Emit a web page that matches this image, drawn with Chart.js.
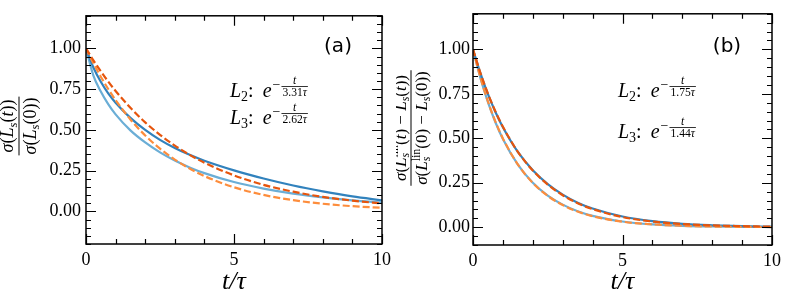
<!DOCTYPE html>
<html>
<head>
<meta charset="utf-8">
<script src="https://cdn.jsdelivr.net/npm/chart.js@4.4.1/dist/chart.umd.min.js"></script>
<style>
  html, body { margin: 0; padding: 0; background: #fff; }
  #wrap { position: relative; width: 792px; height: 303px; }
  canvas { position: absolute; top: 0; }
</style>
</head>
<body>
<div id="wrap">
  <canvas id="chartA" width="396" height="303" style="left:0"></canvas>
  <canvas id="chartB" width="396" height="303" style="left:396px"></canvas>
</div>
<script>
// time axis t/tau
const tVals = [0, 0.25, 0.5, 0.75, 1, 1.5, 2, 2.5, 3, 3.5, 4, 5, 6, 7, 8, 9, 10];

// panel (a): sigma(L_s(t)) / sigma(L_s(0))
const aL2Data = [1.0, 0.883, 0.795, 0.724, 0.667, 0.574, 0.5, 0.439, 0.389, 0.347, 0.311, 0.252, 0.202, 0.159, 0.123, 0.092, 0.068];
const aL3Data = [1.0, 0.833, 0.735, 0.658, 0.595, 0.497, 0.423, 0.362, 0.312, 0.27, 0.235, 0.18, 0.14, 0.109, 0.086, 0.068, 0.054];
const aL2Fit = [1.0, 0.927, 0.86, 0.797, 0.739, 0.636, 0.546, 0.47, 0.404, 0.347, 0.299, 0.221, 0.163, 0.121, 0.089, 0.066, 0.049];
const aL3Fit = [1.0, 0.909, 0.826, 0.751, 0.683, 0.564, 0.466, 0.385, 0.318, 0.263, 0.217, 0.148, 0.101, 0.069, 0.047, 0.032, 0.022];

// panel (b): sigma(L_lin - L_s) normalised
const bL2Data = [1.0, 0.865, 0.748, 0.648, 0.562, 0.423, 0.32, 0.242, 0.183, 0.138, 0.105, 0.06, 0.034, 0.019, 0.011, 0.006, 0.003];
const bL3Data = [1.0, 0.838, 0.703, 0.59, 0.496, 0.352, 0.25, 0.178, 0.127, 0.09, 0.064, 0.032, 0.016, 0.008, 0.004, 0.002, 0.001];
const bL2Fit = [1.0, 0.867, 0.751, 0.651, 0.565, 0.424, 0.319, 0.24, 0.18, 0.135, 0.102, 0.057, 0.032, 0.018, 0.01, 0.006, 0.003];
const bL3Fit = [1.0, 0.841, 0.707, 0.594, 0.499, 0.353, 0.249, 0.176, 0.125, 0.088, 0.062, 0.031, 0.016, 0.008, 0.004, 0.002, 0.001];

// fitted decay times shown in the annotations
const tauA = ['3.31', '2.62'];
const tauB = ['1.75', '1.44'];

const xTickVals = [0, 5, 10];
const xTickLabels = ['0', '5', '10'];
const yTickVals = [0, 0.25, 0.5, 0.75, 1];
const yTickLabels = ['0.00', '0.25', '0.50', '0.75', '1.00'];

const darkBlue = '#3182bd';
const lightBlue = '#6baed6';
const darkOrange = '#e6550d';
const lightOrange = '#fd8d3c';

const SERIF = '"Liberation Serif", "DejaVu Serif", serif';
const MAJOR = 10, MINOR = 5;

function setFont(ctx, size, italic) {
  ctx.font = (italic ? 'italic ' : '') + size.toFixed(1) + 'px ' + SERIF;
}

// tiny math-ish text layout: plain runs, stacked sup/sub, fractions
function drawRuns(ctx, runs, fs, x, y, draw) {
  let cx = x;
  runs.forEach(r => {
    const size = fs * (r.k || 1);
    const by = y + (r.dy || 0) * fs;
    if (r.num) {
      const nd = r.nd || [-0.3, 0.9];
      const wn = drawRuns(ctx, r.num, size, 0, 0, false);
      const wd = drawRuns(ctx, r.den, size, 0, 0, false);
      const w = Math.max(wn, wd) + 2;
      if (draw) {
        drawRuns(ctx, r.num, size, cx + (w - wn) / 2, by + nd[0] * size, true);
        drawRuns(ctx, r.den, size, cx + (w - wd) / 2, by + nd[1] * size, true);
        ctx.fillRect(cx, by - 0.5, w, size > 14 ? 1 : 0.8);
      }
      cx += w + (r.pad || 0);
    } else if (r.sup) {
      setFont(ctx, size, false);
      const w1 = ctx.measureText(r.sup).width;
      if (draw) ctx.fillText(r.sup, cx, y - 0.42 * fs);
      setFont(ctx, size, true);
      const w2 = ctx.measureText(r.sub).width;
      if (draw) ctx.fillText(r.sub, cx, y + 0.22 * fs);
      cx += Math.max(w1, w2);
    } else {
      setFont(ctx, size, r.it);
      if (draw) ctx.fillText(r.s, cx, by);
      cx += ctx.measureText(r.s).width + (r.pad || 0);
    }
  });
  return cx - x;
}

function expRuns(sub, tau) {
  return [
    {s: 'L', it: true},
    {s: sub, k: 0.7, dy: 0.22},
    {s: ':', pad: 9},
    {s: 'e', it: true, pad: 1},
    {s: '\u2212', k: 0.7, dy: -0.4, pad: 1},
    {num: [{s: 't', it: true}], den: [{s: tau}, {s: '\u03c4', it: true}], k: 0.58, dy: -0.52, nd: [-0.22, 0.78]}
  ];
}

const sub_s = {s: 's', it: true, k: 0.7, dy: 0.2};
const linS = {sup: 'lin', sub: 's', k: 0.7};

const ylabA = {
  num: [{s: '\u03c3', it: true}, {s: '('}, {s: 'L', it: true}, sub_s, {s: '('}, {s: 't', it: true}, {s: ')'}, {s: ')'}],
  den: [{s: '\u03c3', it: true}, {s: '('}, {s: 'L', it: true}, sub_s, {s: '('}, {s: '0'}, {s: ')'}, {s: ')'}]
};
const ylabB = {
  num: [{s: '\u03c3', it: true}, {s: '('}, {s: 'L', it: true}, linS, {s: '('}, {s: 't', it: true}, {s: ')'},
        {s: ' \u2212 '}, {s: 'L', it: true}, sub_s, {s: '('}, {s: 't', it: true}, {s: ')'}, {s: ')'}],
  den: [{s: '\u03c3', it: true}, {s: '('}, {s: 'L', it: true}, linS, {s: '('}, {s: '0'}, {s: ')'},
        {s: ' \u2212 '}, {s: 'L', it: true}, sub_s, {s: '('}, {s: '0'}, {s: ')'}, {s: ')'}]
};

function makeDeco(cfg) {
  return {
    id: 'deco',
    afterDraw(chart) {
      const {ctx, chartArea: a, scales: {x, y}} = chart;
      ctx.save();
      ctx.strokeStyle = '#000';
      ctx.lineWidth = 1.5;
      ctx.strokeRect(a.left, a.top, a.right - a.left, a.bottom - a.top);

      // inward ticks on all four sides
      ctx.lineWidth = 1.2;
      ctx.beginPath();
      for (let v = 0; v <= 10; v++) {
        const px = Math.round(x.getPixelForValue(v)) + 0.5;
        const len = v % 5 === 0 ? MAJOR : MINOR;
        ctx.moveTo(px, a.bottom); ctx.lineTo(px, a.bottom - len);
        ctx.moveTo(px, a.top); ctx.lineTo(px, a.top + len);
      }
      const k0 = Math.ceil(y.min / 0.05 - 1e-6), k1 = Math.floor(y.max / 0.05 + 1e-6);
      for (let k = k0; k <= k1; k++) {
        const py = Math.round(y.getPixelForValue(k * 0.05)) + 0.5;
        const len = k % 5 === 0 ? MAJOR : MINOR;
        ctx.moveTo(a.left, py); ctx.lineTo(a.left + len, py);
        ctx.moveTo(a.right, py); ctx.lineTo(a.right - len, py);
      }
      ctx.stroke();

      ctx.fillStyle = '#000';
      ctx.textAlign = 'left';
      ctx.textBaseline = 'alphabetic';
      cfg.annots.forEach(an => drawRuns(ctx, an.runs, 20, an.x, an.y, true));

      ctx.font = '20px "DejaVu Sans"';
      ctx.textAlign = 'center';
      ctx.textBaseline = 'middle';
      ctx.fillText(cfg.tag.text, cfg.tag.x, cfg.tag.y);

      // rotated fraction y label
      ctx.textAlign = 'left';
      ctx.textBaseline = 'alphabetic';
      ctx.translate(cfg.ylab.x, cfg.ylab.y);
      ctx.rotate(-Math.PI / 2);
      const fr = [{num: cfg.ylab.runs.num, den: cfg.ylab.runs.den, nd: [-0.32, 0.92]}];
      const w = drawRuns(ctx, fr, cfg.ylab.fs, 0, 0, false);
      drawRuns(ctx, fr, cfg.ylab.fs, -w / 2, 0, true);
      ctx.restore();
    }
  };
}

function series(vals, color, dashed) {
  return {
    data: tVals.map((t, i) => ({x: t, y: vals[i]})),
    borderColor: color,
    borderWidth: 2.2,
    borderDash: dashed ? [7, 3] : [],
    borderCapStyle: 'butt',
    pointRadius: 0,
    fill: false,
    cubicInterpolationMode: 'monotone'
  };
}

function makeChart(id, cfg) {
  return new Chart(document.getElementById(id), {
    type: 'line',
    data: {
      datasets: [
        series(cfg.fit2, darkOrange, true),
        series(cfg.fit3, lightOrange, true),
        series(cfg.data2, darkBlue, false),
        series(cfg.data3, lightBlue, false)
      ]
    },
    options: {
      responsive: false,
      animation: false,
      layout: { padding: { top: 12, right: cfg.padRight, left: 0, bottom: 0 } },
      plugins: { legend: { display: false }, tooltip: { enabled: false } },
      scales: {
        x: {
          type: 'linear', min: 0, max: 10,
          grid: { display: false, drawTicks: false },
          border: { display: false },
          afterBuildTicks: s => { s.ticks = xTickVals.map(v => ({value: v})); },
          afterFit: s => { s.height = cfg.xH; },
          ticks: {
            padding: 5, color: '#000', maxRotation: 0, autoSkip: false,
            font: { family: SERIF, size: 18 },
            callback: (v, i) => xTickLabels[i]
          },
          title: {
            display: true, text: 't/\u03c4', color: '#000',
            font: { family: SERIF, size: 26, style: 'italic' },
            padding: { top: 0, bottom: 5 }
          }
        },
        y: {
          type: 'linear', min: cfg.yMin, max: 1.2,
          grid: { display: false, drawTicks: false },
          border: { display: false },
          afterBuildTicks: s => { s.ticks = yTickVals.map(v => ({value: v})); },
          afterFit: s => { s.width = cfg.yW; },
          ticks: {
            padding: cfg.yPad, color: '#000', autoSkip: false,
            font: { family: SERIF, size: 18 },
            callback: (v, i) => yTickLabels[i]
          }
        }
      }
    },
    plugins: [makeDeco(cfg)]
  });
}

makeChart('chartA', {
  data2: aL2Data, data3: aL3Data, fit2: aL2Fit, fit3: aL3Fit,
  yMin: -0.2, yW: 86, xH: 59, padRight: 11, yPad: 5,
  annots: [{x: 230, y: 97, runs: expRuns('2', tauA[0])}, {x: 230, y: 124, runs: expRuns('3', tauA[1])}],
  tag: {text: '(a)', x: 338, y: 47},
  ylab: {x: 19, y: 126, fs: 18, runs: ylabA}
});

makeChart('chartB', {
  data2: bL2Data, data3: bL3Data, fit2: bL2Fit, fit3: bL3Fit,
  yMin: -0.1, yW: 77, xH: 58, padRight: 20, yPad: 3,
  annots: [{x: 222, y: 97, runs: expRuns('2', tauB[0])}, {x: 222, y: 138, runs: expRuns('3', tauB[1])}],
  tag: {text: '(b)', x: 331, y: 47},
  ylab: {x: 15, y: 128, fs: 17, runs: ylabB}
});
</script>
</body>
</html>
